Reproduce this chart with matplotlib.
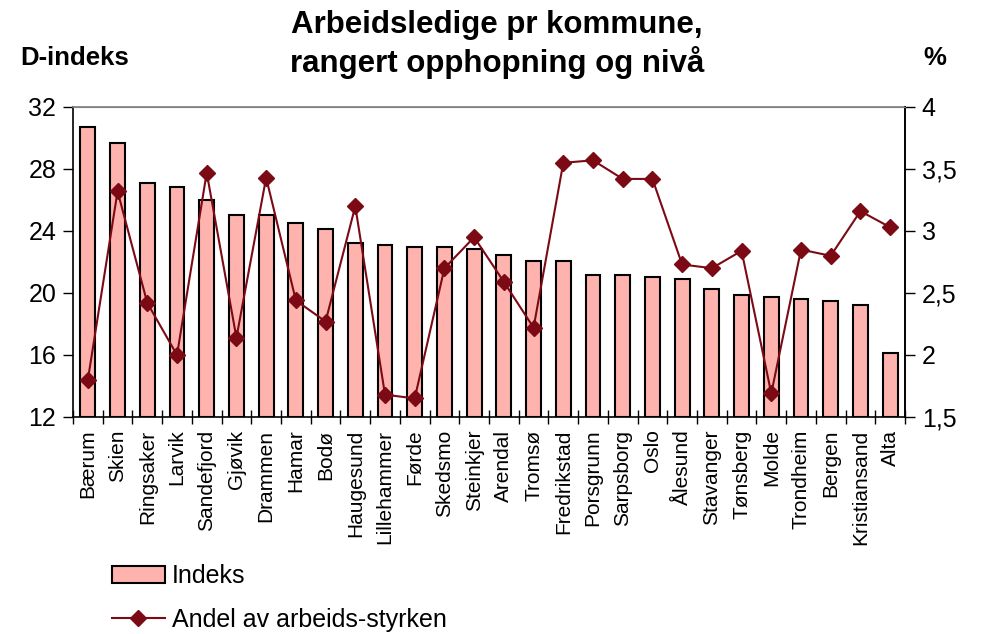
import matplotlib
matplotlib.use("Agg")
import matplotlib.pyplot as plt
from matplotlib.patches import Patch
from matplotlib.lines import Line2D
import numpy as np

plt.rcParams['font.family'] = ['Liberation Sans', 'DejaVu Sans']

kommuner = ["Bærum", "Skien", "Ringsaker", "Larvik", "Sandefjord", "Gjøvik", "Drammen",
            "Hamar", "Bodø", "Haugesund", "Lillehammer", "Førde", "Skedsmo", "Steinkjer",
            "Arendal", "Tromsø", "Fredrikstad", "Porsgrunn", "Sarpsborg", "Oslo", "Ålesund",
            "Stavanger", "Tønsberg", "Molde", "Trondheim", "Bergen", "Kristiansand", "Alta"]
indeks = [30.7, 29.7, 27.1, 26.85, 26.0, 25.05, 25.05, 24.5, 24.15, 23.25, 23.1, 22.99,
          22.99, 22.86, 22.47, 22.08, 22.08, 21.15, 21.15, 21.05, 20.92, 20.28, 19.9,
          19.76, 19.63, 19.5, 19.24, 16.15]
andel = [1.80, 3.32, 2.42, 2.00, 3.47, 2.14, 3.43, 2.44, 2.27, 3.20, 1.68, 1.65, 2.70,
         2.95, 2.59, 2.22, 3.55, 3.57, 3.42, 3.42, 2.73, 2.70, 2.84, 1.69, 2.85, 2.80,
         3.16, 3.03]
left_ticks = [12, 16, 20, 24, 28, 32]
right_ticks = [1.5, 2, 2.5, 3, 3.5, 4]
right_labels = ["1,5", "2", "2,5", "3", "3,5", "4"]

bar_color = "#FFB3AE"
line_color = "#7B0A14"

fig = plt.figure(figsize=(9.82, 6.34), dpi=100)
ax = fig.add_axes([73/982, 1-417/634, (905-73)/982, (417-107)/634])
x = np.arange(len(kommuner))
ax.bar(x, [v - 12 for v in indeks], bottom=12, width=0.5, color=bar_color,
       edgecolor="black", linewidth=1.5, zorder=2)
ax.set_xlim(-0.5, len(kommuner) - 0.5)
ax.set_ylim(12, 32)
ax.set_yticks(left_ticks)
ax.set_yticklabels([str(t) for t in left_ticks], fontsize=18)
ax.tick_params(axis='y', direction='out', length=7, width=1, pad=5)
ax.set_xticks(x)
ax.set_xticklabels(kommuner, rotation=90, fontsize=15)
ax.tick_params(axis='x', length=0, pad=9)
ax.set_xticks(np.arange(-0.5, len(kommuner) + 0.5, 1), minor=True)
ax.tick_params(axis='x', which='minor', direction='inout', length=10, width=1)
for s in ['left', 'bottom', 'right']:
    ax.spines[s].set_color('black')
    ax.spines[s].set_linewidth(1.2)
ax.spines['top'].set_color('#808080')
ax.spines['top'].set_linewidth(1.2)

ax2 = ax.twinx()
ax2.plot(x, andel, color=line_color, linewidth=1.5, marker='D', markersize=8.5,
         markerfacecolor=line_color, markeredgecolor=line_color, zorder=3)
ax2.set_ylim(1.5, 4)
ax2.set_yticks(right_ticks)
ax2.set_yticklabels(right_labels, fontsize=18)
ax2.tick_params(axis='y', direction='out', length=7, width=1, pad=5)
ax2.spines['right'].set_color('black')
ax2.spines['right'].set_linewidth(1.2)
ax2.spines['top'].set_color('#808080')
ax2.spines['left'].set_visible(False)
ax2.spines['bottom'].set_visible(False)

fig.text(497/982, 1-33/634, "Arbeidsledige pr kommune,", ha='center', va='baseline',
         fontsize=22.5, fontweight='bold')
fig.text(497/982, 1-72/634, "rangert opphopning og nivå", ha='center', va='baseline',
         fontsize=22.5, fontweight='bold')
fig.text(20/982, 1-65/634, "D-indeks", ha='left', va='baseline', fontsize=18.5, fontweight='bold')
fig.text(935/982, 1-65/634, "%", ha='center', va='baseline', fontsize=18.5, fontweight='bold')

handles = [Patch(facecolor=bar_color, edgecolor='black', linewidth=1.5),
           Line2D([0], [0], color=line_color, linewidth=1.5, marker='D', markersize=8,
                  markerfacecolor=line_color, markeredgecolor=line_color)]
fig.legend(handles, ["Indeks", "Andel av arbeids-styrken"], loc='upper left',
           bbox_to_anchor=(112/982, 1-564/634), frameon=False, fontsize=18,
           handlelength=2.1, handleheight=0.65, labelspacing=0.8, handletextpad=0.3,
           borderaxespad=0, borderpad=0)

fig.savefig("out.png", dpi=100)
